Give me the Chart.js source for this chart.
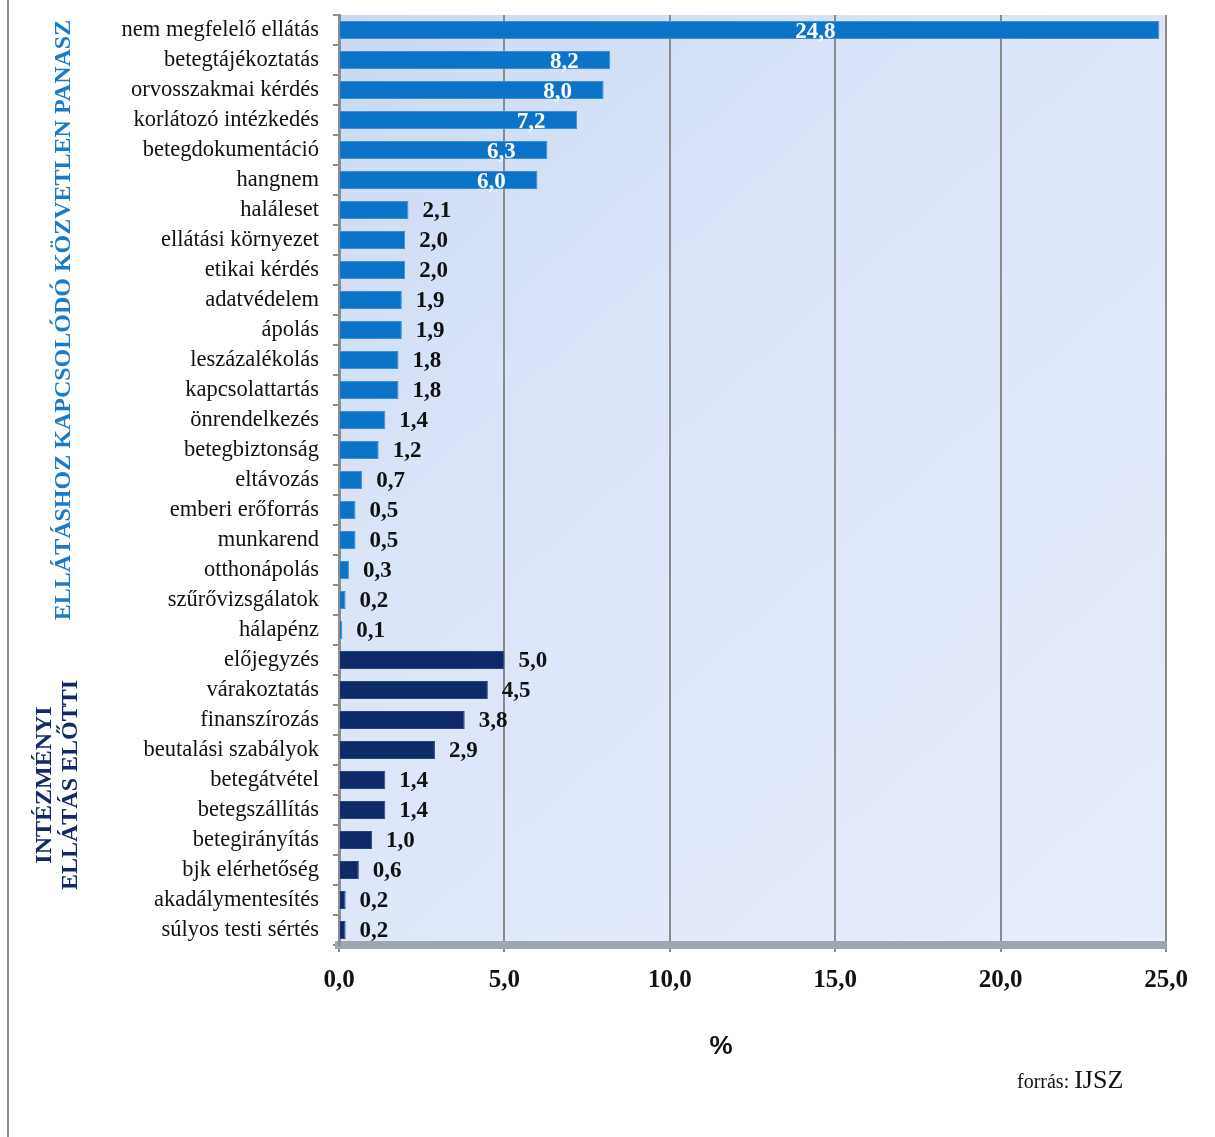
<!DOCTYPE html>
<html lang="hu">
<head>
<meta charset="utf-8">
<script src="https://cdn.jsdelivr.net/npm/chart.js@4/dist/chart.umd.min.js"></script>
<style>
  html, body { margin: 0; padding: 0; background: #fff; }
  #wrap { width: 1215px; height: 1137px; }
</style>
</head>
<body>
<div id="wrap"><canvas id="panaszok" width="1215" height="1137"></canvas></div>
<script>
// ellátáshoz kapcsolódó közvetlen panasz
const kozvetlenKategoriak = [
  'nem megfelelő ellátás', 'betegtájékoztatás', 'orvosszakmai kérdés', 'korlátozó intézkedés',
  'betegdokumentáció', 'hangnem', 'haláleset', 'ellátási környezet', 'etikai kérdés',
  'adatvédelem', 'ápolás', 'leszázalékolás', 'kapcsolattartás', 'önrendelkezés',
  'betegbiztonság', 'eltávozás', 'emberi erőforrás', 'munkarend', 'otthonápolás',
  'szűrővizsgálatok', 'hálapénz'
];
const kozvetlenErtekek = [24.8, 8.2, 8.0, 7.2, 6.3, 6.0, 2.1, 2.0, 2.0, 1.9, 1.9, 1.8, 1.8, 1.4, 1.2, 0.7, 0.5, 0.5, 0.3, 0.2, 0.1];

// intézményi ellátás előtti
const intezmenyiKategoriak = [
  'előjegyzés', 'várakoztatás', 'finanszírozás', 'beutalási szabályok', 'betegátvétel',
  'betegszállítás', 'betegirányítás', 'bjk elérhetőség', 'akadálymentesítés', 'súlyos testi sértés'
];
const intezmenyiErtekek = [5.0, 4.5, 3.8, 2.9, 1.4, 1.4, 1.0, 0.6, 0.2, 0.2];

const xTickek = [0, 5, 10, 15, 20, 25];

const szam = v => Number(v).toFixed(1).replace('.', ',');
const ures = n => Array(n).fill(null);

const hatter = {
  id: 'hatter',
  beforeDraw(chart) {
    const { ctx, chartArea: a } = chart;
    ctx.save();
    ctx.fillStyle = '#fff';
    ctx.fillRect(0, 0, chart.width, chart.height);
    const g = ctx.createLinearGradient(a.left, a.top, a.right, a.bottom);
    g.addColorStop(0, '#c9d9f3');
    g.addColorStop(0.35, '#dbe5f8');
    g.addColorStop(1, '#e6edfb');
    ctx.fillStyle = g;
    ctx.fillRect(a.left, a.top, a.right - a.left, a.bottom - a.top);
    // bal oldali keret
    ctx.fillStyle = '#8c8c8c';
    ctx.fillRect(7, 0, 2, chart.height);
    ctx.restore();
  }
};

const feliratok = {
  id: 'feliratok',
  afterDatasetsDraw(chart) {
    const { ctx } = chart;
    const x = chart.scales.x;
    ctx.save();
    ctx.font = 'bold 23px "Liberation Serif"';
    ctx.textBaseline = 'middle';
    chart.data.datasets.forEach((ds, di) => {
      chart.getDatasetMeta(di).data.forEach((bar, i) => {
        const v = ds.data[i];
        if (v === null) return;
        if (di === 0 && i < 6) {
          ctx.fillStyle = '#fff';
          ctx.textAlign = 'center';
          const lx = v > 20 ? x.getPixelForValue(14.4) : bar.x - 46;
          ctx.fillText(szam(v), lx, bar.y + 2);
        } else {
          ctx.fillStyle = '#111';
          ctx.textAlign = 'left';
          ctx.fillText(szam(v), bar.x + 14, bar.y + 1);
        }
      });
    });

    // csoportcímek
    const y = chart.scales.y;
    const n1 = kozvetlenKategoriak.length;
    const n2 = intezmenyiKategoriak.length;
    const c1 = (y.getPixelForValue(0) + y.getPixelForValue(n1 - 1)) / 2 - 10;
    const c2 = (y.getPixelForValue(n1) + y.getPixelForValue(n1 + n2 - 1)) / 2 - 10;
    ctx.font = 'bold 24px "Liberation Serif"';
    ctx.textAlign = 'center';
    ctx.textBaseline = 'middle';

    ctx.save();
    ctx.translate(64, c1);
    ctx.rotate(-Math.PI / 2);
    ctx.fillStyle = '#1a7cc9';
    ctx.fillText('ELLÁTÁSHOZ KAPCSOLÓDÓ KÖZVETLEN PANASZ', 0, 0);
    ctx.restore();

    ctx.save();
    ctx.translate(58, c2);
    ctx.rotate(-Math.PI / 2);
    ctx.fillStyle = '#13296a';
    ctx.fillText('INTÉZMÉNYI', 0, -13);
    ctx.fillText('ELLÁTÁS ELŐTTI', 0, 13);
    ctx.restore();

    // tengelycím
    ctx.fillStyle = '#111';
    ctx.font = 'bold 26px "Liberation Sans"';
    ctx.fillText('%', 721, 1047);

    // forrás
    ctx.textAlign = 'left';
    ctx.textBaseline = 'alphabetic';
    ctx.font = '20px "Liberation Serif"';
    ctx.fillText('forrás:', 1017, 1088);
    const w = ctx.measureText('forrás: ').width;
    ctx.font = '26px "Liberation Serif"';
    ctx.fillText('IJSZ', 1017 + w, 1088);
    ctx.restore();
  }
};

new Chart(document.getElementById('panaszok'), {
  type: 'bar',
  data: {
    labels: kozvetlenKategoriak.concat(intezmenyiKategoriak),
    datasets: [{
      label: 'Ellátáshoz kapcsolódó közvetlen panasz',
      data: kozvetlenErtekek.concat(ures(intezmenyiKategoriak.length)),
      backgroundColor: '#0b74c8',
      borderColor: '#3d8fd6',
      borderWidth: 1,
      categoryPercentage: 0.6,
      barPercentage: 1.0
    }, {
      label: 'Intézményi ellátás előtti',
      data: ures(kozvetlenKategoriak.length).concat(intezmenyiErtekek),
      backgroundColor: '#0f2a68',
      borderColor: '#2a4583',
      borderWidth: 1,
      categoryPercentage: 0.6,
      barPercentage: 1.0
    }]
  },
  options: {
    indexAxis: 'y',
    responsive: false,
    animation: false,
    layout: { padding: { top: 15, right: 49, bottom: 77, left: 0 } },
    plugins: {
      legend: { display: false },
      tooltip: { enabled: false }
    },
    scales: {
      x: {
        type: 'linear',
        min: 0,
        max: 25,
        stacked: true,
        afterBuildTicks: scale => { scale.ticks = xTickek.map(v => ({ value: v })); },
        afterFit: scale => { scale.height = 115; },
        ticks: {
          callback: v => szam(v),
          font: { family: 'Liberation Serif', size: 25, weight: 'bold' },
          color: '#111',
          padding: 14
        },
        grid: { color: '#8a8a8a', lineWidth: 2, tickLength: 7 },
        border: { width: 8, color: '#a0a6b1' }
      },
      y: {
        stacked: true,
        afterFit: scale => {
          scale.width = 339;
          scale.paddingTop = 0;
          scale.paddingBottom = 0;
        },
        ticks: {
          autoSkip: false,
          font: { family: 'Liberation Serif', size: 22.5 },
          color: '#111',
          padding: 14
        },
        grid: { drawOnChartArea: false, offset: true, color: '#8e8e8e', lineWidth: 2, tickLength: 6 },
        border: { width: 3, color: '#8e8e8e' }
      }
    }
  },
  plugins: [hatter, feliratok]
});
</script>
</body>
</html>
